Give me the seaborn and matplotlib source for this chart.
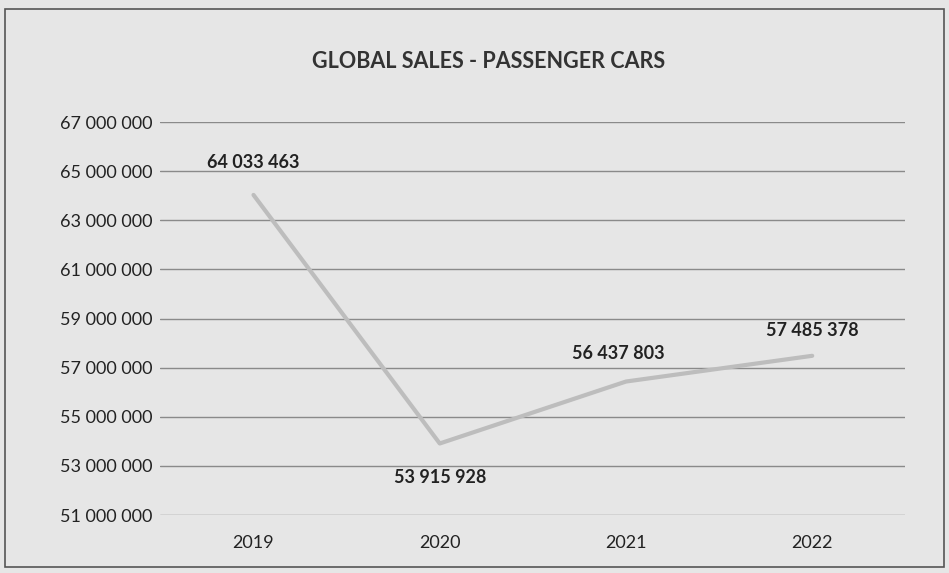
import matplotlib.pyplot as plt
import seaborn as sns
import pandas as pd

years = ["2019", "2020", "2021", "2022"]
sales = [64033463, 53915928, 56437803, 57485378]
y_ticks = [51000000, 53000000, 55000000, 57000000, 59000000,
           61000000, 63000000, 65000000, 67000000]

sns.set_style("white")
plt.rcParams["font.family"] = ["Lato", "DejaVu Sans"]

df = pd.DataFrame({"year": years, "sales": sales})

fig = plt.figure(figsize=(9.49, 5.73), dpi=100, facecolor="#e6e6e6")
ax = fig.add_axes([0.169, 0.101, 0.785, 0.686])
ax.set_facecolor("#e6e6e6")
sns.lineplot(data=df, x="year", y="sales", color="#bdbdbd", linewidth=3, ax=ax, sort=False)

ax.set_ylim(51000000, 67000000)
ax.set_xlim(-0.5, 3.5)
ax.set_yticks(y_ticks)
ax.set_yticklabels([f"{v:,}".replace(",", " ") for v in y_ticks])
ax.yaxis.grid(True, color="#8a8a8a", linewidth=1)
for s in ax.spines.values():  # no frame around the plot area
    s.set_visible(False)
ax.tick_params(axis="both", length=0, labelsize=13, pad=6, labelcolor="#222222")
ax.tick_params(axis="x", pad=14)
ax.set_xlabel("")
ax.set_ylabel("")

# value labels, placed like the original chart
offsets = [(0.0, 1300000), (0.0, -1400000), (-0.04, 1150000), (0.0, 1050000)]
for i, (v, (dx, dy)) in enumerate(zip(sales, offsets)):
    ax.text(i + dx, v + dy, f"{v:,}".replace(",", " "), ha="center", va="center",
            fontsize=13, fontweight="bold", color="#222222")

fig.text(0.515, 0.892, "GLOBAL SALES - PASSENGER CARS", ha="center", va="center",
         fontsize=15.5, fontweight="bold", color="#333333")
fig.patches.append(plt.Rectangle((0.005, 0.01), 0.99, 0.975, transform=fig.transFigure,
                                 fill=False, edgecolor="#555555", linewidth=1.2))

plt.savefig("out.png", dpi=100, facecolor=fig.get_facecolor())
plt.close()
